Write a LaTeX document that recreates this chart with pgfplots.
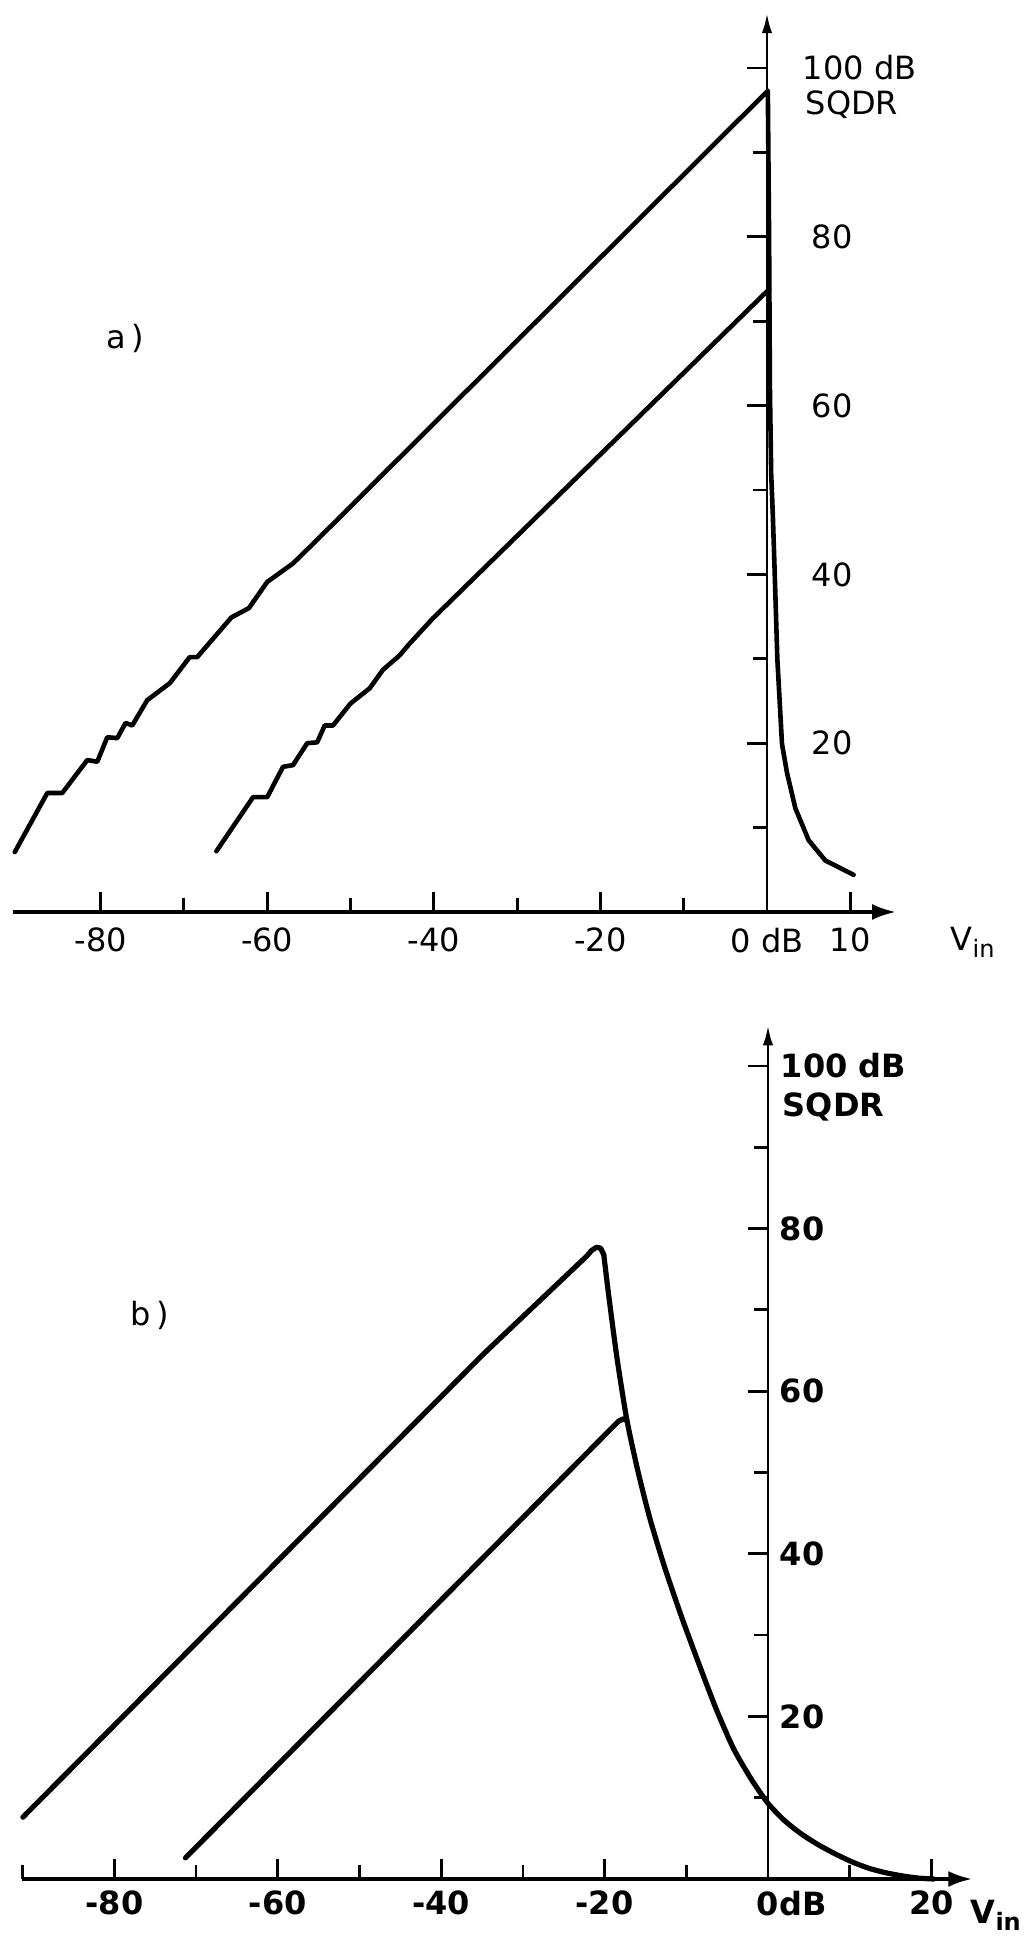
\documentclass[border=0pt]{standalone}
\usepackage{pgfplots}
\pgfplotsset{compat=1.18}
\usepackage{fontspec}
\setmainfont{DejaVu Sans}
\usetikzlibrary{arrows.meta}

\pgfplotsset{
  sqdr/.style={
    anchor=origin, clip=false,
    axis x line=bottom, axis y line=middle,
    xtick align=inside, ytick align=outside,
    major tick length=5pt, minor tick length=3.5pt,
    every tick/.style={black, line width=0.7pt},
    x axis line style={line width=0.9pt, -{Latex[length=6pt,width=4pt]}},
    y axis line style={line width=0.7pt, -{Latex[length=5pt,width=2.6pt]}},
    ymin=0,
    ytick={20,40,60,80,100}, minor ytick={10,30,50,70,90},
    yticklabels={20,40,60,80,{}},
    tick label style={font=\fontsize{8}{9}\selectfont},
    xticklabel style={anchor=north},
    yticklabel style={anchor=west, inner sep=0pt},
  },
  curve/.style={black, line width=1.15pt, line join=round, line cap=round},
}

\begin{document}
\begin{tikzpicture}
\useasboundingbox (0,0) rectangle (259pt,484.25pt);

% a)
\begin{axis}[sqdr,
  at={(191.75pt,256.25pt)},
  x=2.0825pt, y=2.11pt,
  xmin=-90.5, xmax=15.5, ymax=106.5,
  xtick={-80,-60,-40,-20,0,10}, minor xtick={-70,-50,-30,-10},
  xticklabels={-80,-60,-40,-20,0 dB,10},
  xticklabel style={yshift=-0.5pt},
  yticklabel style={xshift=16pt},
]
\addplot[curve] coordinates {
(-90.3,7.1) (-86.4,14.1) (-84.6,14.1) (-81.6,18.0) (-80.4,17.8) (-79.2,20.7)
(-78.0,20.6) (-77.0,22.4) (-76.2,22.1) (-74.4,25.1) (-71.7,27.1) (-69.3,30.2)
(-68.4,30.2) (-64.3,34.9) (-62.2,36.0) (-60.0,39.1) (-56.9,41.3) (-54.0,44.1)
(0.1,97.3) (0.25,80) (0.35,62) (0.5,52) (0.7,47) (0.92,40.3) (1.24,30.0)
(1.8,19.9) (2.4,16.5) (3.4,12.3) (5.0,8.5) (7.0,6.1) (10.4,4.4)
};
\addplot[curve] coordinates {
(-66.1,7.2) (-61.7,13.6) (-60.0,13.6) (-58.1,17.2) (-56.9,17.4) (-55.2,20.0)
(-54.0,20.1) (-53.1,22.1) (-52.1,22.1) (-50.0,24.7) (-47.7,26.5) (-46.1,28.7)
(-44.1,30.4) (-42.9,31.8) (-40.1,34.8) (0.27,73.8)
};
\node[anchor=west, inner sep=0pt, xshift=8.75pt, font=\fontsize{8}{9}\selectfont] at (axis cs:0,100) {100 dB};
\node[anchor=west, inner sep=0pt, xshift=9.5pt, font=\fontsize{8}{9}\selectfont] at (axis cs:0,95.6) {SQDR};
\node[font=\fontsize{8}{9}\selectfont] at (axis cs:24.8,-3.6) {V\textsubscript{in}};
\node[font=\fontsize{8}{9}\selectfont] at (axis cs:-77,68) {a\,)};
\end{axis}

% b)
\begin{axis}[sqdr,
  at={(192pt,14.5pt)},
  x=2.0425pt, y=2.0325pt,
  xmin=-91.3, xmax=25, ymax=105,
  xtick={-80,-60,-40,-20,0,20}, minor xtick={-91.2,-70,-50,-30,-10,10},
  xticklabels={-80,-60,-40,-20,0\rlap{dB},20},
  tick label style={font=\fontsize{8}{9}\selectfont\bfseries},
  xticklabel style={yshift=0.5pt},
  yticklabel style={xshift=7.75pt},
]
\addplot[curve, line width=1.3pt] coordinates {
(-91.2,7.6) (-34.8,64.6) (-22.2,76.6) (-21.6,77.3) (-21.0,77.7) (-20.5,77.6)
(-20.1,76.8)
};
\addplot[curve, line width=1.3pt, smooth, tension=0.4] coordinates {
(-20.1,76.8) (-19.5,71.8) (-18.5,64.2) (-17.3,56.6) (-16,50.5) (-14.5,44.5)
(-12.7,38.5) (-10.6,32.3) (-8.4,26.3) (-6.3,20.8) (-4.2,16) (-2,12.2)
(0,9.3) (2,7.2) (4,5.6) (6,4.3) (8.2,3.1) (10.3,2.1) (12.4,1.3) (14.5,0.75)
(16.6,0.35) (18.5,0.1) (20.3,0)
};
\addplot[curve, line width=1.3pt] coordinates {
(-71.3,2.6) (-19.0,55.6) (-18.3,56.3) (-17.7,56.6) (-17.25,56.4)
};
\node[anchor=west, inner sep=0pt, xshift=3pt, font=\fontsize{8}{9}\selectfont\bfseries] at (axis cs:0,100) {100 dB};
\node[anchor=west, inner sep=0pt, xshift=3.5pt, font=\fontsize{8}{9}\selectfont\bfseries] at (axis cs:0,95) {SQDR};
\node[font=\fontsize{8}{9}\selectfont\bfseries] at (axis cs:28,-4.5) {V\textsubscript{in}};
\node[font=\fontsize{8}{9}\selectfont] at (axis cs:-75.7,69.3) {b\,)};
\end{axis}
\end{tikzpicture}
\end{document}
